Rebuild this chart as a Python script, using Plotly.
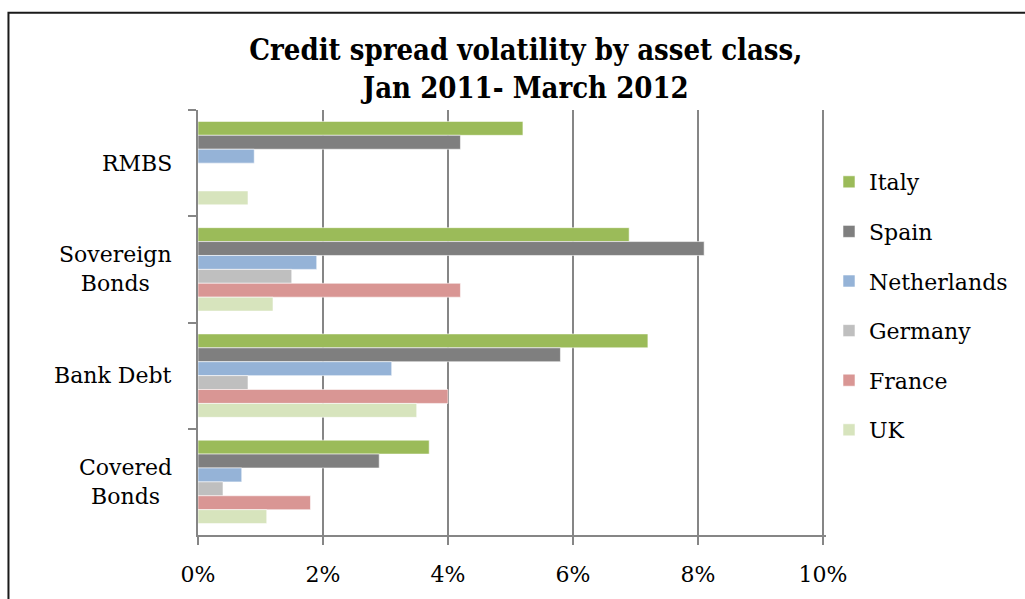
import plotly.graph_objects as go

categories = ["RMBS", "Sovereign Bonds", "Bank Debt", "Covered Bonds"]
category_labels = ["RMBS", "Sovereign<br>Bonds", "Bank Debt", "Covered<br>Bonds"]
series_names = ["Italy", "Spain", "Netherlands", "Germany", "France", "UK"]
italy = [5.2, 6.9, 7.2, 3.7]
spain = [4.2, 8.1, 5.8, 2.9]
netherlands = [0.9, 1.9, 3.1, 0.7]
germany = [0.0, 1.5, 0.8, 0.4]
france = [0.0, 4.2, 4.0, 1.8]
uk = [0.8, 1.2, 3.5, 1.1]
x_ticks = [0, 2, 4, 6, 8, 10]
x_tick_labels = ["0%", "2%", "4%", "6%", "8%", "10%"]

series_values = [italy, spain, netherlands, germany, france, uk]
colors = ["#9BBB59", "#7F7F7F", "#95B3D7", "#BFBFBF", "#D99694", "#D7E4BD"]

FONT = "DejaVu Serif"
AXIS = "#868686"

fig = go.Figure()
for name, vals, col in zip(series_names, series_values, colors):
    fig.add_trace(go.Bar(
        y=categories, x=vals, name=name, orientation="h",
        marker=dict(color=col, line=dict(color="rgba(255,255,255,0.7)", width=0.8)),
        legendgroup=name,
    ))

for cat, lab in zip(categories, category_labels):
    fig.add_annotation(
        x=-0.038, xref="paper", y=cat, yref="y", text=lab, showarrow=False,
        xanchor="right", yanchor="middle", align="center",
        font=dict(family=FONT, size=22, color="black"),
    )

# outer chart border (extends beyond the right/bottom edge like the reference)
fig.add_shape(type="rect", xref="paper", yref="paper",
              x0=-0.3018, x1=1.34, y0=-0.16, y1=1.2287,
              line=dict(color="#1a1a1a", width=2), layer="below")

fig.update_layout(
    width=1025, height=599,
    margin=dict(l=198, r=199, t=110, b=54),
    paper_bgcolor="white", plot_bgcolor="white",
    barmode="group", bargap=0.215, bargroupgap=0,
    title=dict(
        text="<b>Credit spread volatility by asset class,<br>Jan 2011- March 2012</b>",
        x=0.513, xref="container", xanchor="center",
        y=0.899, yref="container", yanchor="middle",
        font=dict(family="DejaVu Serif Condensed, DejaVu Serif", size=29, color="black"),
    ),
    xaxis=dict(
        range=[0, 10.05], tickvals=x_ticks, ticktext=x_tick_labels,
        showgrid=True, gridcolor=AXIS, gridwidth=2,
        showline=True, linecolor=AXIS, linewidth=2,
        ticks="outside", ticklen=8, tickwidth=2, tickcolor=AXIS,
        ticklabelstandoff=11,
        tickfont=dict(family=FONT, size=22, color="black"),
        zeroline=False, fixedrange=True,
    ),
    yaxis=dict(
        autorange="reversed", type="category",
        showgrid=False, showline=True, linecolor=AXIS, linewidth=2,
        ticks="outside", ticklen=8, tickwidth=2, tickcolor=AXIS,
        tickson="boundaries", showticklabels=False, fixedrange=True,
    ),
    legend=dict(
        x=1.0048, xanchor="left", y=0.88, yanchor="top",
        traceorder="grouped", tracegroupgap=18,
        font=dict(family=FONT, size=22, color="black"),
        bgcolor="rgba(0,0,0,0)",
    ),
    showlegend=True,
)

fig.write_html("out.html")
